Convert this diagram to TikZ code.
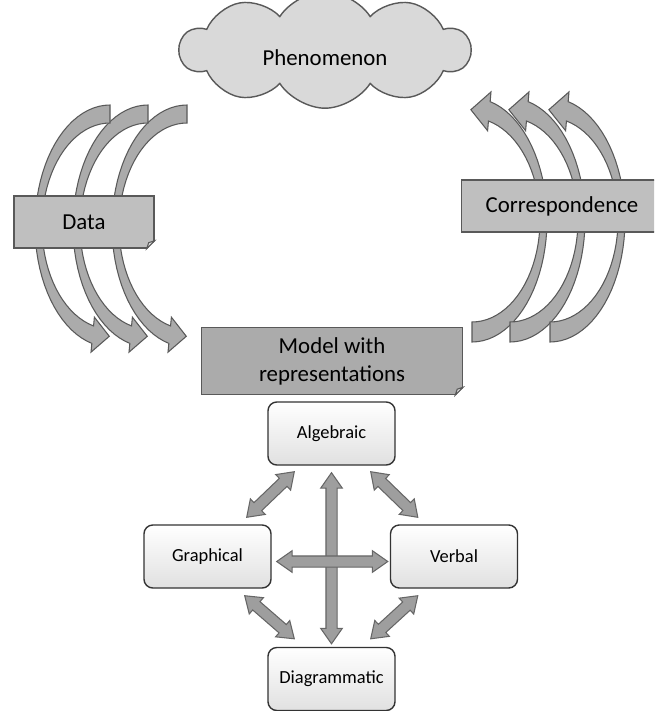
\documentclass[tikz,border=0pt]{standalone}
\usepackage{fontspec}
\setmainfont{Carlito}
\usetikzlibrary{calc,shapes.symbols,shapes.arrows}

\begin{document}
\begin{tikzpicture}[x=0.2mm,y=0.2mm,
  cloudbox/.style = {cloud,cloud puffs=10,cloud puff arc=115,aspect=3.4,draw=black!65,fill=black!15,line width=0.8pt,minimum width=58mm,minimum height=17mm,text height=21pt,text depth=3pt,font=\fontsize{13}{15}\selectfont},
  notebox/.style = {rectangle,draw=black!65,fill=black!25,line width=0.8pt,inner sep=0pt,font=\fontsize{13}{16}\selectfont},
  repbox/.style = {rectangle,rounded corners=5pt,draw=black!80,top color=white,bottom color=black!12,line width=0.8pt,minimum width=25.4mm,minimum height=12.6mm,font=\fontsize{10.5}{12}\selectfont},
  bendarrow/.style = {draw=black!65,fill=black!33,line width=0.6pt},
  dblarrow/.style = {double arrow,draw=black!60,fill=black!38,line width=0.6pt,inner sep=1mm,double arrow head extend=1.05mm,double arrow tip angle=70},
  blockarrow/.style = {to path={let \p1=($(\tikztotarget)-(\tikztostart)$) in node[dblarrow,minimum height={veclen(\x1,\y1)},rotate={atan2(\y1,\x1)}] at ($(\tikztostart)!0.5!(\tikztotarget)$) {}}}]

\useasboundingbox (0,0) rectangle (654,-711);
\clip (0,0) rectangle (654,-711);

% curved arrows round Data
\foreach \cx in {187,148,110} {
  \coordinate (o) at ({\cx+75*cos(256)},{-226+121*sin(256)});
  \coordinate (i) at ({\cx+68*cos(256)},{-226+103*sin(256)});
  \coordinate (m) at ($(o)!0.5!(i)$);
  \filldraw[bendarrow] plot[domain=90:256,samples=40] ({\cx+75*cos(\x)},{-226+121*sin(\x)})
    -- ($(o)!-0.5!(i)$) -- ($(m)!1.9!90:(o)$) -- ($(i)!-0.5!(o)$)
    -- plot[domain=256:90,samples=40] ({\cx+68*cos(\x)},{-226+103*sin(\x)}) -- cycle;
}

% curved arrows round Correspondence
\foreach \cx in {472,510,550} {
  \coordinate (o) at ({\cx+75*cos(76)},{-220+122*sin(76)});
  \coordinate (i) at ({\cx+68*cos(76)},{-220+102*sin(76)});
  \coordinate (m) at ($(o)!0.5!(i)$);
  \filldraw[bendarrow] plot[domain=-90:76,samples=40] ({\cx+75*cos(\x)},{-220+122*sin(\x)})
    -- ($(o)!-0.5!(i)$) -- ($(m)!1.9!90:(o)$) -- ($(i)!-0.5!(o)$)
    -- plot[domain=76:-90,samples=40] ({\cx+68*cos(\x)},{-220+102*sin(\x)}) -- cycle;
}

\node[cloudbox] (phen) at (325,-50) {Phenomenon};
\node[notebox,minimum width=28mm,minimum height=10.4mm] (data) at (84,-222) {Data};
\node[notebox,minimum width=40.2mm,minimum height=10.4mm] (corr) at (562,-206) {Correspondence};
\node[notebox,fill=black!33,minimum width=52.2mm,minimum height=13.4mm,align=center] (model) at (332,-361) {Model with\\representations};

% folded corners
\fill[white] ($(data.south east)+(-8,-1)$) -- ($(data.south east)+(1,-1)$) -- ($(data.south east)+(1,8)$) -- cycle;
\draw[black!65,fill=black!12,line width=0.6pt] ($(data.south east)+(-8,0)$) -- ($(data.south east)+(0,8)$) -- ($(data.south east)+(-6,6)$) -- cycle;
\fill[white] ($(model.south east)+(-8,-1)$) -- ($(model.south east)+(1,-1)$) -- ($(model.south east)+(1,8)$) -- cycle;
\draw[black!65,fill=black!12,line width=0.6pt] ($(model.south east)+(-8,0)$) -- ($(model.south east)+(0,8)$) -- ($(model.south east)+(-6,6)$) -- cycle;

\node[repbox] (alg) at (331.5,-433.5) {Algebraic};
\node[repbox] (gra) at (207.5,-556.5) {Graphical};
\node[repbox] (ver) at (454,-556.5) {Verbal};
\node[repbox] (dia) at (331.5,-679) {Diagrammatic};

% arrow ends
\coordinate (algdown) at ($(alg.south)+(0,-7)$);
\coordinate (diaup) at ($(dia.north)+(0,3)$);
\coordinate (graright) at ($(gra.east)+(5,-5)$);
\coordinate (verleft) at ($(ver.west)+(-2,-5)$);
\coordinate (alggra) at ($(alg.south west)+(27,-6)$);
\coordinate (graalg) at ($(gra.north east)+(-25,7)$);
\coordinate (algver) at ($(alg.south east)+(-25,-6)$);
\coordinate (veralg) at ($(ver.north west)+(28,7)$);
\coordinate (gradia) at ($(gra.south east)+(-27,-7)$);
\coordinate (diagra) at ($(dia.north west)+(27,8)$);
\coordinate (verdia) at ($(ver.south west)+(28,-7)$);
\coordinate (diaver) at ($(dia.north east)+(-25,8)$);

\path[blockarrow] (algdown) to (diaup);
\path[blockarrow] (graright) to (verleft);
\path[blockarrow] (alggra) to (graalg);
\path[blockarrow] (algver) to (veralg);
\path[blockarrow] (gradia) to (diagra);
\path[blockarrow] (verdia) to (diaver);

\end{tikzpicture}
\end{document}
